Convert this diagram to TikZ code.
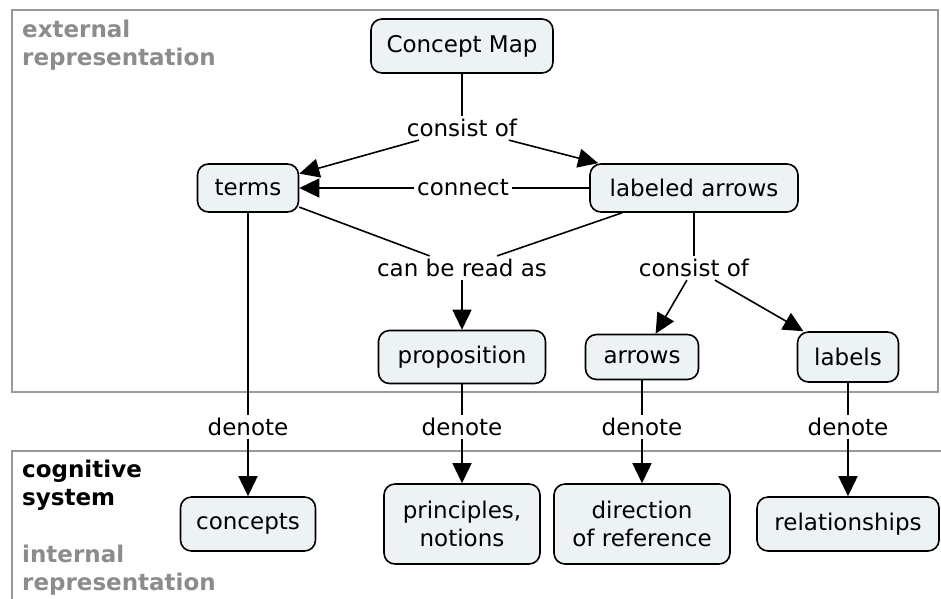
\documentclass[tikz,border=0pt]{standalone}
\usepackage{fontspec}
\setmainfont{DejaVu Sans}
\usetikzlibrary{arrows.meta}
\definecolor{boxfill}{HTML}{EDF2F5}
\definecolor{framegray}{HTML}{999999}
\definecolor{cornergray}{HTML}{8C8C8C}
\begin{document}
\begin{tikzpicture}[x=1pt,y=-1pt,
  concept/.style={draw=black, line width=1.6pt, rounded corners=11pt, fill=boxfill,
    font=\fontsize{23}{28}\selectfont, inner sep=0pt, align=center},
  lbl/.style={font=\fontsize{23}{28}\selectfont, inner sep=3pt},
  link/.style={line width=1.6pt},
  arr/.style={line width=1.6pt, -{Triangle[length=20pt,width=19pt]}},
  frame/.style={draw=framegray, line width=2pt},
  corner/.style={font=\fontsize{23}{28}\selectfont\bfseries, anchor=base west, inner sep=0pt}]
\useasboundingbox (0,0) rectangle (941,598);
% frames
\draw[frame] (12,10) rectangle (938,392);
\draw[frame] (941,451) -- (12,451) -- (12,600);
% corner texts
\node[corner, text=cornergray] (ext1) at (22,37) {external};
\node[corner, text=cornergray] (ext2) at (22,65) {representation};
\node[corner, text=black] (cog1) at (22,477) {cognitive};
\node[corner, text=black] (cog2) at (22,505) {system};
\node[corner, text=cornergray] (int1) at (22,562) {internal};
\node[corner, text=cornergray] (int2) at (22,590) {representation};
% concepts
\node[concept, minimum width=182pt, minimum height=54pt] (cm) at (462,46) {Concept Map};
\node[concept, minimum width=101pt, minimum height=48pt] (terms) at (248,188) {terms};
\node[concept, minimum width=208pt, minimum height=48pt] (la) at (694,188) {labeled arrows};
\node[concept, minimum width=167pt, minimum height=53pt] (prop) at (462,357) {proposition};
\node[concept, minimum width=113pt, minimum height=45pt] (arrows) at (642,357) {arrows};
\node[concept, minimum width=101pt, minimum height=50pt] (labels) at (848,357) {labels};
\node[concept, minimum width=135pt, minimum height=54pt] (concepts) at (248,524) {concepts};
\node[concept, minimum width=156pt, minimum height=80pt] (princ) at (462,524) {principles,\\notions};
\node[concept, minimum width=176pt, minimum height=80pt] (dir) at (642,524) {direction\\of reference};
\node[concept, minimum width=182pt, minimum height=54pt] (rel) at (848,524) {relationships};
% link labels
\node[lbl] (l1) at (462,128) {consist of};
\node[lbl] (l2) at (463,188) {connect};
\node[lbl] (l3) at (462,268) {can be read as};
\node[lbl] (l4) at (694,268) {consist of};
\node[lbl] (d1) at (248,427) {denote};
\node[lbl] (d2) at (462,427) {denote};
\node[lbl] (d3) at (642,427) {denote};
\node[lbl] (d4) at (848,427) {denote};
% connectors
\draw[link] (cm) -- (l1);
\draw[arr] (l1) -- (terms);
\draw[arr] (l1) -- (la);
\draw[link] (la) -- (l2);
\draw[arr] (l2) -- (terms);
\draw[link] (terms) -- (l3);
\draw[link] (la) -- (l3);
\draw[arr] (l3) -- (prop);
\draw[link] (la) -- (l4);
\draw[arr] (l4) -- (arrows);
\draw[arr] (l4) -- (labels);
\draw[link] (terms) -- (d1);
\draw[arr] (d1) -- (concepts);
\draw[link] (prop) -- (d2);
\draw[arr] (d2) -- (princ);
\draw[link] (arrows) -- (d3);
\draw[arr] (d3) -- (dir);
\draw[link] (labels) -- (d4);
\draw[arr] (d4) -- (rel);
\end{tikzpicture}
\end{document}
